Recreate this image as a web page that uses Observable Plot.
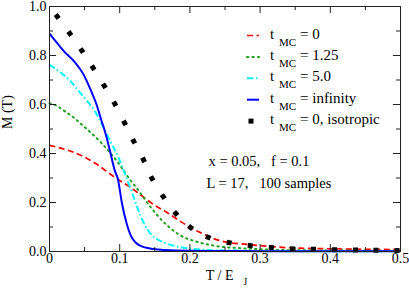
<!DOCTYPE html>
<html><head><meta charset="utf-8">
<script src="https://cdn.jsdelivr.net/npm/d3@7"></script>
<script src="https://cdn.jsdelivr.net/npm/@observablehq/plot@0.6"></script>
<style>
body{margin:0;background:#fff;}
svg, svg text{font-family:"Liberation Serif","DejaVu Serif",serif !important;}
svg text{white-space:pre;}
</style></head><body><div id="chart"></div>
<script>
// ---- data ----
const tRed = [0,0.024,0.048,0.072,0.086,0.100,0.115,0.134,0.150,0.167,0.180,0.200,0.215,0.229,0.252,0.281,0.309,0.35,0.40,0.45,0.50];
const mRed = [0.433,0.415,0.388,0.347,0.317,0.290,0.262,0.222,0.188,0.160,0.135,0.099,0.077,0.058,0.038,0.029,0.022,0.014,0.011,0.009,0.008];

const tGreen = [0,0.010,0.020,0.034,0.046,0.060,0.074,0.086,0.096,0.105,0.115,0.124,0.131,0.143,0.153,0.167,0.179,0.186,0.210,0.243,0.270,0.295,0.33,0.40,0.50];
const mGreen = [0.605,0.595,0.576,0.548,0.518,0.482,0.443,0.404,0.369,0.333,0.292,0.260,0.232,0.185,0.150,0.108,0.080,0.066,0.040,0.020,0.014,0.010,0.006,0.004,0.003];

const tCyan = [0,0.015,0.029,0.041,0.053,0.065,0.072,0.086,0.098,0.1075,0.117,0.124,0.134,0.146,0.162,0.179,0.200,0.220,0.260,0.300,0.40,0.50];
const mCyan = [0.762,0.732,0.698,0.657,0.616,0.571,0.535,0.453,0.385,0.317,0.245,0.188,0.118,0.066,0.038,0.022,0.012,0.007,0.004,0.002,0.001,0.001];

const tBlue = [0,0.008,0.022,0.036,0.048,0.058,0.067,0.074,0.080,0.086,0.093,0.0975,0.103,0.110,0.117,0.123,0.129,0.138,0.148,0.165,0.20,0.25,0.30,0.50];
const mBlue = [0.889,0.861,0.813,0.773,0.725,0.664,0.600,0.535,0.480,0.412,0.330,0.295,0.200,0.113,0.058,0.036,0.024,0.015,0.010,0.006,0.003,0.002,0.001,0.001];

const tIso = [0.011,0.029,0.046,0.062,0.078,0.093,0.107,0.120,0.134,0.146,0.162,0.180,0.201,0.226,0.256,0.286,0.316,0.346,0.376,0.406,0.436,0.465,0.495];
const mIso = [0.959,0.890,0.820,0.750,0.676,0.603,0.525,0.450,0.374,0.298,0.224,0.155,0.098,0.058,0.036,0.024,0.016,0.011,0.009,0.007,0.006,0.005,0.004];

const seriesNames = ["0","1.25","5.0","infinity","0, isotropic"];
const xMajor = [0,0.1,0.2,0.3,0.4,0.5];
const xMinor = [0.05,0.15,0.25,0.35,0.45];
const yMajor = [0,0.2,0.4,0.6,0.8,1.0];
const yMinor = [0.1,0.3,0.5,0.7,0.9];
const xTickLabels = ["0","0.1","0.2","0.3","0.4","0.5"];
const yTickLabels = ["0.0","0.2","0.4","0.6","0.8","1.0"];
const notes = ["x = 0.05,   f = 0.1","L = 17,   100 samples"];

// ---- layout / style ----
const FONT = '"Liberation Serif", serif';
const W = 409, H = 288, mL = 49, mR = 9, mT = 6, mB = 37;
const fw = W - mL - mR, fh = H - mT - mB;
const styles = [
  {stroke:"#ff0000", width:1.7, dash:"6,3.5"},
  {stroke:"#23a023", width:2, dash:"1.4,4"},
  {stroke:"#00ffff", width:2, dash:"6.5,2.5,1.5,2.5"},
  {stroke:"#0000ff", width:2, dash:null}
];
const zip = (T, M) => T.map((t, i) => ({T: t, M: M[i]}));
const lines = [zip(tRed,mRed), zip(tGreen,mGreen), zip(tCyan,mCyan), zip(tBlue,mBlue)];
const kx = fw / 0.5, ky = fh / 1;
const iso = tIso.map((t, i) => {
  const a = Math.max(0, i - 1), b = Math.min(tIso.length - 1, i + 1);
  const rot = Math.atan2(ky * (mIso[a] - mIso[b]), kx * (tIso[b] - tIso[a])) * 180 / Math.PI;
  return {T: t, M: mIso[i], rot};
});

const chart = Plot.plot({
  width: W, height: H,
  marginLeft: mL, marginRight: mR, marginTop: mT, marginBottom: mB,
  x: {domain: [0, 0.5]},
  y: {domain: [0, 1]},
  style: {fontFamily: FONT, fontSize: "14px", color: "#000", background: "#fff"},
  marks: [
    ...lines.map((d, i) => Plot.line(d, {x: "T", y: "M", curve: "monotone-x",
      stroke: styles[i].stroke, strokeWidth: styles[i].width,
      strokeDasharray: styles[i].dash, strokeLinecap: i === 1 ? "round" : "butt"})),
    Plot.dot(iso, {x: "T", y: "M", symbol: "square", r: 2.8, fill: "#000", stroke: null, rotate: "rot"}),
    Plot.frame({stroke: "#222", strokeWidth: 1}),
    // inward ticks on all four sides
    Plot.tickX(xMajor, {x: d => d, insetTop: fh - 7, stroke: "#222"}),
    Plot.tickX(xMajor, {x: d => d, insetBottom: fh - 7, stroke: "#222"}),
    Plot.tickX(xMinor, {x: d => d, insetTop: fh - 4, stroke: "#222"}),
    Plot.tickX(xMinor, {x: d => d, insetBottom: fh - 4, stroke: "#222"}),
    Plot.tickY(yMajor, {y: d => d, insetRight: fw - 7, stroke: "#222"}),
    Plot.tickY(yMajor, {y: d => d, insetLeft: fw - 7, stroke: "#222"}),
    Plot.tickY(yMinor, {y: d => d, insetRight: fw - 4, stroke: "#222"}),
    Plot.tickY(yMinor, {y: d => d, insetLeft: fw - 4, stroke: "#222"}),
    Plot.axisX(xMajor, {tickSize: 0, tickPadding: 2, label: null, fontSize: 14, fill: "#000",
      tickFormat: d => xTickLabels[xMajor.indexOf(d)]}),
    Plot.axisY(yMajor, {tickSize: 0, tickPadding: 3, label: null, fontSize: 14, fill: "#000",
      tickFormat: d => yTickLabels[yMajor.indexOf(d)]}),
    // axis titles
    Plot.text(["M (T)"], {frameAnchor: "left", rotate: -90, dx: -38, lineAnchor: "bottom", fontSize: 14}),
    Plot.text(["T / E"], {frameAnchor: "bottom", textAnchor: "end", dx: 8.5, dy: 28, lineAnchor: "bottom", fontSize: 14}),
    Plot.text(["J"], {frameAnchor: "bottom", textAnchor: "start", dx: 18.5, dy: 33, lineAnchor: "bottom", fontSize: 9.5}),
    // annotations
    Plot.text([notes[0]], {frameAnchor: "top-left", textAnchor: "start", dx: 159, dy: 159, lineAnchor: "bottom", fontSize: 14.5}),
    Plot.text([notes[1]], {frameAnchor: "top-left", textAnchor: "start", dx: 157, dy: 181, lineAnchor: "bottom", fontSize: 14.5})
  ]
});
document.getElementById("chart").appendChild(chart);

// legend inside the frame
const svg = d3.select(chart);
const leg = svg.append("g").attr("text-anchor", "start").attr("fill", "#000");
seriesNames.forEach((name, i) => {
  const base = 38.5 + 21.4 * i;
  const sy = base - 3;
  if (i < 4) {
    leg.append("line").attr("x1", 247).attr("x2", 259).attr("y1", sy).attr("y2", sy)
      .attr("stroke", styles[i].stroke).attr("stroke-width", styles[i].width)
      .attr("stroke-dasharray", styles[i].dash).attr("stroke-linecap", i === 1 ? "round" : "butt");
  } else {
    leg.append("rect").attr("x", 248.5).attr("y", sy - 2.5).attr("width", 5).attr("height", 5).attr("fill", "#000");
  }
  leg.append("text").attr("x", 270).attr("y", base).style("font-size", "15px").text("t");
  leg.append("text").attr("x", 279).attr("y", base + 7).style("font-size", "11px").text("MC");
  leg.append("text").attr("x", 300).attr("y", base).style("font-size", "15px").text("= " + name);
});
</script></body></html>
